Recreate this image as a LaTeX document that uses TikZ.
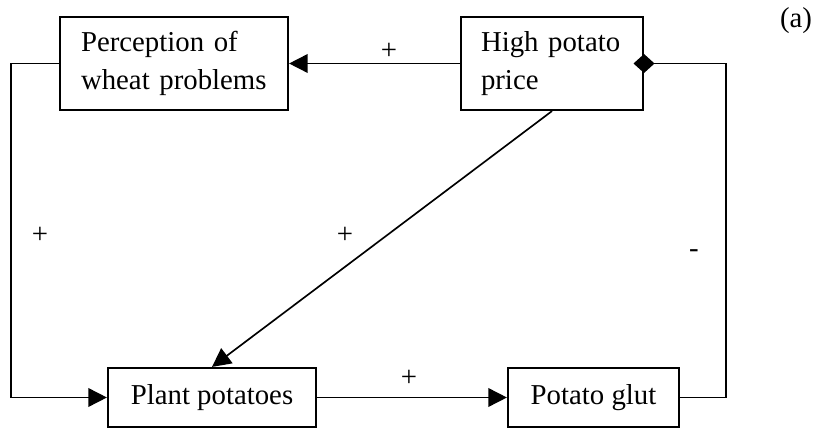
\documentclass[tikz,border=0pt]{standalone}
\usepackage{fontspec}
\setmainfont{Liberation Serif}
\usetikzlibrary{arrows.meta,positioning}

\begin{document}
\begin{tikzpicture}[x=0.75pt,y=-0.75pt,>={Triangle[length=14pt,width=14pt]},font=\fontsize{21.6}{27}\selectfont]
\tikzstyle{box}=[draw,line width=1.6pt,inner sep=0pt]
\tikzstyle{link}=[line width=1.25pt]
\tikzstyle{sign}=[inner sep=0pt]
\useasboundingbox (0,0) rectangle (822,428);
% boxes
\node[box,minimum width=228*0.75pt,minimum height=93*0.75pt,text width=186*0.75pt,align=left] (wheat) at (174,63.5) {Perception of\\[1pt]wheat problems};
\node[box,minimum width=182*0.75pt,minimum height=93*0.75pt,text width=142*0.75pt,align=left] (price) at (552,63.5) {High potato\\[1pt]price};
\node[box,minimum width=208*0.75pt,minimum height=59*0.75pt] (plant) at (212,397.5) {Plant potatoes};
\node[box,minimum width=171*0.75pt,minimum height=59*0.75pt] (glut) at (593.5,397.5) {Potato glut};
\node (tag) at (796,21) {(a)};
% links
\draw[link,->] (price) -- (wheat);
\draw[link,->] (wheat.west) -- ++(-48,0) |- (plant.west);
\draw[link,->] (price.south) -- (plant.north);
\draw[link,->] (plant) -- (glut);
\draw[link,-{Diamond[length=21*0.75pt,width=19*0.75pt]},shorten >=-7.9pt] (glut.east) -- ++(46,0) |- (price.east);
% signs
\node[sign] (s1) at (389,51) {+};
\node[sign] (s2) at (40,235) {+};
\node[sign] (s3) at (345,235) {+};
\node[sign] (s4) at (409,378) {+};
\node[sign] (s5) at (694,254) {-};
\end{tikzpicture}
\end{document}
